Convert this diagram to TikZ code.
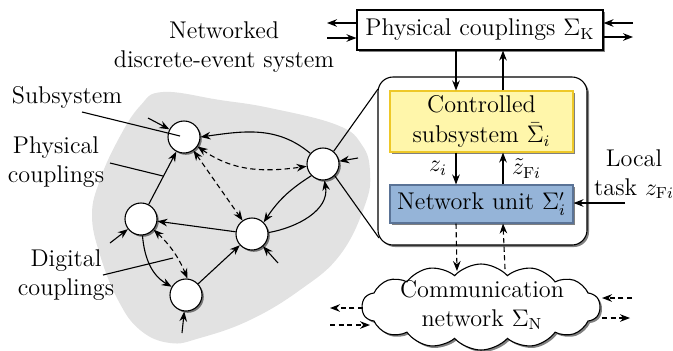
\documentclass[tikz,border=0pt]{standalone}
\usetikzlibrary{arrows.meta,shadows,shapes.symbols,calc}
\definecolor{yfill}{RGB}{255,246,170}
\definecolor{ydraw}{RGB}{238,200,40}
\definecolor{bfill}{RGB}{149,180,216}
\definecolor{bdraw}{RGB}{90,115,150}
\definecolor{blobc}{RGB}{226,226,226}
\begin{document}
\begin{tikzpicture}[x=0.5pt,y=0.5pt,
  font=\fontsize{12.1}{14.5}\selectfont,
  ln/.style={line width=0.55pt},
  arr/.style={ln,-{Stealth[length=5pt,width=3.8pt]}},
  barr/.style={ln,{Stealth[length=5pt,width=3.8pt]}-{Stealth[length=5pt,width=3.8pt]}},
  dsh/.style={dash pattern=on 2.6pt off 1.7pt},
  sub/.style={circle,draw,ln,fill=white,minimum size=16pt,inner sep=0pt,
    drop shadow={shadow xshift=0.9pt,shadow yshift=-0.9pt,fill=black!55,opacity=1}},
  bx/.style={draw,ln,inner sep=1pt,drop shadow={shadow xshift=1pt,shadow yshift=-1pt,fill=black!50,opacity=1}},
  lbl/.style={align=center,inner sep=0pt}]
\useasboundingbox (0,0) rectangle (673,-350);

% blob
\fill[blobc] plot[smooth cycle,tension=0.7] coordinates {
 (163,-92) (220,-100) (270,-108) (337,-125) (362,-145) (370,-172) (365,-205)
 (340,-255) (300,-290) (250,-320) (200,-338) (170,-343) (140,-330) (118,-300)
 (100,-255) (92,-215) (100,-180) (118,-140) (140,-106)};

% big box
\node[bx,rounded corners=7.5pt,fill=white,minimum width=104.5pt,minimum height=84pt] (BB) at (482.5,-161) {};
\node[bx,fill=yfill,draw=ydraw,minimum width=91.5pt,minimum height=30.5pt,align=center,inner sep=0pt] (Y) at (481.5,-121.5) {Controlled\\[0.5pt]subsystem $\bar{\Sigma}_i$};
\node[bx,fill=bfill,draw=bdraw,minimum width=91.5pt,minimum height=19pt] (N) at (481.5,-204) {Network unit $\Sigma_i'$};
\node[bx,fill=white,minimum width=123pt,minimum height=20pt] (K) at (480,-30) {Physical couplings $\Sigma_{\mathrm{K}}$};
\node[cloud,cloud puffs=14,cloud puff arc=95,cloud ignores aspect,draw,ln,fill=white,inner sep=0pt,
  minimum width=119pt,minimum height=43pt,
  drop shadow={shadow xshift=1pt,shadow yshift=-1pt,fill=black!50,opacity=1}] (CN) at (481,-307) {};
\node[lbl] (CT) at (482,-305) {Communication\\network $\Sigma_{\mathrm{N}}$};

% subsystems
\node[sub] (A) at (184,-137) {};
\node[sub] (B) at (141,-219) {};
\node[sub] (C) at (186,-295) {};
\node[sub] (D) at (252,-234) {};
\node[sub] (E) at (323,-164) {};

% edges
\draw[arr] (B) -- (A);
\draw[arr] (E.140) to[out=140,in=8] (A.east);
\draw[barr,dsh] (A.-35) to[out=-35,in=188] (E.188);
\draw[barr,dsh] (A) -- (D);
\draw[arr] (D) -- (B);
\draw[arr] (E.225) to[bend right=12] (D.45);
\draw[arr] (D.5) to[out=10,in=-80] (E.-85);
\draw[arr] (C) -- (D);
\draw[arr] (B.-85) to[out=-85,in=150] (C.150);
\draw[barr,dsh] (B.-40) to[bend left=12] (C.85);

% inputs
\coordinate (iA) at (148,-118);
\coordinate (iB) at (110,-243);
\coordinate (iC) at (182,-333);
\coordinate (iD) at (278,-263);
\coordinate (iE) at (358,-158);
\draw[arr] (iA) -- (A);
\draw[arr] (iB) -- (B);
\draw[arr] (iC) -- (C);
\draw[arr] (iD) -- (D);
\draw[arr] (iE) -- (E);

% zoom lines
\coordinate (zt) at (378,-89);
\coordinate (zb) at (379,-238);
\draw[ln] (E.50) -- (zt);
\draw[ln] (E.-45) -- (zb);

% labels
\node[lbl] at (224,-47) {Networked\\discrete-event system};
\node[lbl] (tS) at (67,-97) {Subsystem};
\node[lbl] (tP) at (56,-162) {Physical\\couplings};
\node[lbl] (tD) at (66,-275) {Digital\\couplings};
\coordinate (sS) at (82,-112);
\coordinate (sP) at (110,-163);
\coordinate (sD) at (103,-275);
\draw[ln] (sS) -- (180,-136);
\draw[ln] (sP) -- (163,-176);
\draw[ln] (sD) -- (173,-258);

% physical couplings box arrows
\coordinate (kl1) at (327,-23);
\coordinate (kl2) at (327,-38);
\coordinate (kr1) at (633,-23);
\coordinate (kr2) at (633,-37);
\draw[arr] (kl1 -| K.west) -- (kl1);
\draw[arr] (kl2) -- (kl2 -| K.west);
\draw[arr] (kr1) -- (kr1 -| K.east);
\draw[arr] (kr2 -| K.east) -- (kr2);

% vertical arrows
\coordinate (x1) at (456,0);
\coordinate (x2) at (503,0);
\draw[arr] (x1 |- K.south) -- (x1 |- Y.north);
\draw[arr] (x2 |- Y.north) -- (x2 |- K.south);
\draw[arr] (x1 |- Y.south) -- node[left=1pt] {$z_i$} (x1 |- N.north);
\draw[arr] (x2 |- N.north) -- node[right=1pt] {$\tilde{z}_{\mathrm{F}i}$} (x2 |- Y.south);
\coordinate (cd) at (457,-271);
\coordinate (cu) at (505,-269);
\draw[arr,dsh] (x1 |- N.south) -- (cd);
\draw[arr,dsh] (cu) -- (x2 |- N.south);

% local task
\node[lbl] (LT) at (634,-174) {Local\\task $z_{\mathrm{F}i}$};
\coordinate (lt) at (625,-203);
\draw[arr] (lt) -- (lt -| N.east);

% cloud side arrows
\coordinate (cl1) at (363,-308);
\coordinate (cl1e) at (330,-308);
\coordinate (cl2) at (330,-325);
\coordinate (cl2e) at (370,-325);
\coordinate (cr1) at (632,-298);
\coordinate (cr1e) at (602,-298);
\coordinate (cr2) at (602,-318);
\coordinate (cr2e) at (630,-318);
\draw[arr,dsh] (cl1) -- (cl1e);
\draw[arr,dsh] (cl2) -- (cl2e);
\draw[arr,dsh] (cr1) -- (cr1e);
\draw[arr,dsh] (cr2) -- (cr2e);
\end{tikzpicture}
\end{document}
